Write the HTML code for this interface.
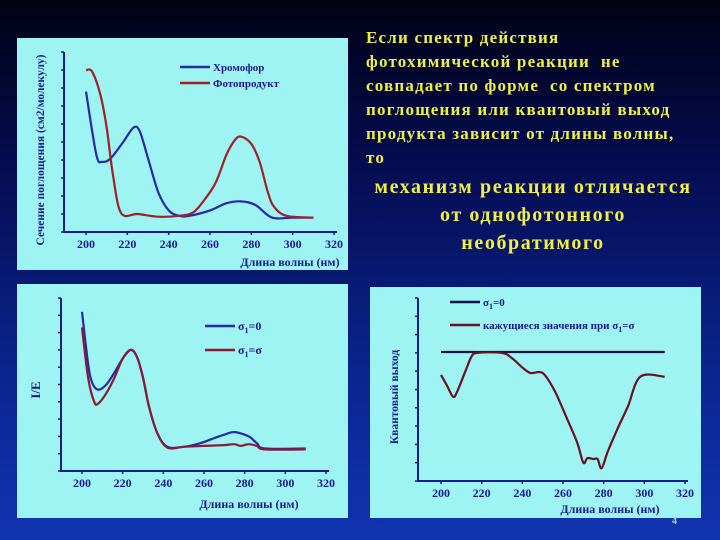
<!DOCTYPE html>
<html><head><meta charset="utf-8">
<style>
body{margin:0;width:720px;height:540px;overflow:hidden;background:linear-gradient(180deg,#010214 0%,#050c50 30%,#0b2590 70%,#1034b0 100%);font-family:"Liberation Serif","Noto Serif CJK SC",serif;position:relative}
.t{position:absolute;color:#f0f040;font-size:17px;font-weight:bold;letter-spacing:1.2px;left:366px;line-height:24px;white-space:nowrap}
.b{position:absolute;color:#f0f040;font-size:20px;font-weight:bold;letter-spacing:1.6px;left:358px;width:350px;text-align:center;line-height:28px;white-space:nowrap}
svg{position:absolute;left:0;top:0}
text{font-family:"Liberation Serif",serif;font-weight:bold}
</style></head><body>
<div class="t" style="top:26px">Если спектр действия<br>фотохимической реакции&nbsp; не<br>совпадает по форме&nbsp; со спектром<br>поглощения или квантовый выход<br>продукта зависит от длины волны,<br>то</div>
<div class="b" style="top:173px">механизм реакции отличается<br>от однофотонного<br>необратимого</div>
<svg id="s" width="720" height="540"></svg>
<script>
const xTicks=[200,220,240,260,280,300,320];
const c1x=[200,205,208,212,218,223,226,230,235,240,245,250,260,268,275,282,290,300,310];
const c1blue=[7.8,4.3,3.9,4.1,5.0,5.8,5.6,4.1,2.2,1.2,0.9,0.9,1.2,1.6,1.7,1.5,0.8,0.8,0.8];
const c1rx=[200,203,207,210,213,217,225,235,245,252,258,263,268,272,275,280,284,288,291,297,310];
const c1red=[9.0,8.9,7.6,5.8,3.2,1.05,1.0,0.85,0.9,1.1,1.9,2.8,4.3,5.1,5.3,4.9,3.9,2.2,1.4,0.9,0.8];
const c2x=[200,203,205,208,212,216,220,224,227,230,233,237,242,250,258,265,270,275,282,286,290,310];
const c2blue=[9.2,6.2,5.1,4.7,5.0,5.7,6.5,7.0,6.6,5.4,3.7,2.2,1.4,1.4,1.6,1.9,2.1,2.25,2.0,1.6,1.3,1.3];
const c2rx=[200,203,206,208,212,216,220,224,227,230,233,237,242,250,260,270,275,278,282,286,290,310];
const c2red=[8.3,5.4,4.0,3.9,4.5,5.4,6.5,7.0,6.6,5.4,3.7,2.2,1.35,1.4,1.45,1.5,1.55,1.45,1.55,1.45,1.25,1.25];
const c3lx=[200,310];
const c3line=[7.05,7.05];
const c3x=[200,203,206,208,212,215,218,230,235,240,244,248,251,256,262,267,270,272,275,277,279,282,287,292,298,310];
const c3red=[5.8,5.2,4.6,4.9,6.0,6.8,7.0,7.0,6.7,6.2,5.9,5.95,5.8,4.9,3.4,2.1,1.0,1.25,1.2,1.2,0.7,1.6,2.9,4.1,5.7,5.7];
const NS='http://www.w3.org/2000/svg';
const s=document.getElementById('s');
function el(t,a,p){const e=document.createElementNS(NS,t);for(const k in a)e.setAttribute(k,a[k]);(p||s).appendChild(e);return e;}
function smooth(pts){
 let d='M'+pts[0][0].toFixed(1)+','+pts[0][1].toFixed(1);
 for(let i=0;i<pts.length-1;i++){
  const p0=pts[i-1]||pts[i],p1=pts[i],p2=pts[i+1],p3=pts[i+2]||p2;
  const c1=[p1[0]+(p2[0]-p0[0])/6,p1[1]+(p2[1]-p0[1])/6];
  const c2=[p2[0]-(p3[0]-p1[0])/6,p2[1]-(p3[1]-p1[1])/6];
  d+=` C${c1[0].toFixed(1)},${c1[1].toFixed(1)} ${c2[0].toFixed(1)},${c2[1].toFixed(1)} ${p2[0].toFixed(1)},${p2[1].toFixed(1)}`;
 }
 return d;
}
function chart(cfg){
 const g=el('g',{});
 
 
 const bg=el('rect',{x:cfg.px,y:cfg.py,width:cfg.pw,height:cfg.ph,fill:'#9ef3f3'},g);
 
 
 const X=v=>cfg.x200+(v-200)*(cfg.x320-cfg.x200)/120;
 const Y=v=>cfg.ax-v*(cfg.ax-cfg.top)/10;
 const ax=el('path',{d:`M${cfg.ay},${cfg.top} V${cfg.ax} H${X(320)+3}`,stroke:'#1a1a90','stroke-width':2,fill:'none'},g);
 
 
 for(let i=0;i<=10;i++){el('line',{x1:cfg.ay-3,x2:cfg.ay,y1:Y(i),y2:Y(i),stroke:'#1a1a90','stroke-width':1.5},g);}
 xTicks.forEach(t=>{el('line',{x1:X(t),x2:X(t),y1:cfg.ax,y2:cfg.ax+3,stroke:'#1a1a90','stroke-width':1.5},g);
  const tx=el('text',{x:X(t),y:cfg.ax+16,'text-anchor':'middle','font-size':12,fill:'#1a1a90'},g);tx.textContent=t;
  
  });
 const xt=el('text',{x:cfg.xtx,y:cfg.xty,'text-anchor':'middle','font-size':12,fill:'#1a1a90'},g);xt.textContent='Длина волны (нм)';
 
 
 const yt=el('text',{x:0,y:0,'text-anchor':'middle','font-size':cfg.ytfs,fill:'#1a1a90',transform:`translate(${cfg.ytx},${cfg.yty}) rotate(-90)`},g);yt.textContent=cfg.ytitle;
 
 
 cfg.series.forEach(sr=>{
  const pts=sr.xs.map((v,i)=>[X(v),Y(sr.ys[i])]);
  const p=el('path',{d:smooth(pts),stroke:sr.c,'stroke-width':2.2,fill:'none','stroke-linejoin':'round'},g);
  
  
 });
 cfg.legend.forEach(l=>{
  el('line',{x1:l.x,x2:l.x+30,y1:l.y,y2:l.y,stroke:l.c,'stroke-width':2.5},g);
  const t=el('text',{x:l.x+33,y:l.y+4,'font-size':l.fs||11,fill:'#1a1a90'},g);t.innerHTML=l.t;
  
  
 });
}
chart({name:'absorption-chart',px:17,py:38,pw:331,ph:232,x200:86,x320:334,ax:232,top:52,ay:64,xtx:290,xty:266,ytx:44,yty:150,ytfs:11.5,ytitle:'Сечение поглощения (см2/молекулу)',
 series:[{name:'chromophore-line',xs:c1x,ys:c1blue,c:'#2828a8'},{name:'photoproduct-line',xs:c1rx,ys:c1red,c:'#a0202a'}],
 legend:[{x:180,y:67,c:'#2828a8',t:'Хромофор'},{x:180,y:83,c:'#a0202a',t:'Фотопродукт'}]});
chart({name:'action-spectrum-chart',px:17,py:284,pw:331,ph:234,x200:82,x320:326,ax:471,top:298,ay:61,xtx:249,xty:508,ytx:40,yty:390,ytfs:13,ytitle:'I/E',
 series:[{name:'sigma-zero-line',xs:c2x,ys:c2blue,c:'#2828a8'},{name:'sigma-equal-line',xs:c2rx,ys:c2red,c:'#8a1a30'}],
 legend:[{x:205,y:326,c:'#2828a8',t:'σ<tspan font-size="8" dy="3">1</tspan><tspan dy="-3">=0</tspan>',fs:12},{x:205,y:350,c:'#8a1a30',t:'σ<tspan font-size="8" dy="3">1</tspan><tspan dy="-3">=σ</tspan>',fs:12}]});
chart({name:'quantum-yield-chart',px:370,py:287,pw:331,ph:231,x200:441,x320:685,ax:481,top:298,ay:418,xtx:610,xty:513,ytx:398,yty:397,ytfs:11.5,ytitle:'Квантовый выход',
 series:[{name:'sigma-zero-line',xs:c3lx,ys:c3line,c:'#101040'},{name:'apparent-yield-line',xs:c3x,ys:c3red,c:'#6a1020'}],
 legend:[{x:450,y:302,c:'#101040',t:'σ<tspan font-size="8" dy="3">1</tspan><tspan dy="-3">=0</tspan>'},{x:450,y:325,c:'#6a1020',t:'кажущиеся значения при σ<tspan font-size="8" dy="3">1</tspan><tspan dy="-3">=σ</tspan>'}]});
const pn=el('text',{x:672,y:524,'font-size':10,fill:'#c0c8ff','font-weight':'normal'});pn.textContent='4';


</script>
</body></html>
